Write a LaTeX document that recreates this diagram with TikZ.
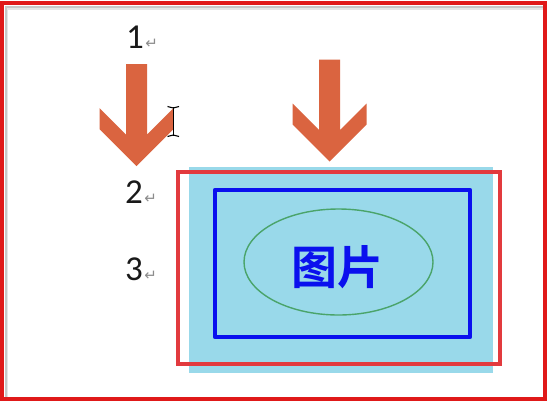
\documentclass[tikz,border=0pt]{standalone}
\usepackage{fontspec}
\usetikzlibrary{shapes.geometric}
\setmainfont{Carlito}
\newfontfamily\cjkbold[BoldFont={Noto Sans CJK SC Bold}]{Noto Sans CJK SC}
\newfontfamily\symfont{DejaVu Sans}
\definecolor{arrowred}{HTML}{DA6440}
\definecolor{lightblue}{HTML}{99D9EA}
\definecolor{outerred}{HTML}{E01919}
\definecolor{innerred}{HTML}{E23A3E}
\definecolor{picblue}{HTML}{0A10EE}
\definecolor{ellgreen}{HTML}{4AA46A}
\definecolor{retgray}{HTML}{8C8C8C}
\tikzset{
  numtext/.style={anchor=base west, inner sep=0pt, font=\fontsize{35}{35}\selectfont, text=black!90},
  retmark/.style={anchor=base west, inner sep=0pt, xshift=1pt, font=\symfont\fontsize{15}{15}\selectfont, text=retgray},
  bigarrow/.style={fill=arrowred, draw=none},
}
\newcommand\mydownarrow[2]{%
  \fill[bigarrow] (#1-10.5,#2) -- (#1+10.5,#2) -- (#1+10.5,#2+70.5) -- (#1+37,#2+44)
    -- (#1+37,#2+65) -- (#1,#2+102) -- (#1-37,#2+65) -- (#1-37,#2+44)
    -- (#1-10.5,#2+70.5) -- cycle;}
\begin{document}
\begin{tikzpicture}[x=1pt,y=-1pt]
\useasboundingbox (0,0) rectangle (548,402);
\fill[white] (0,0) rectangle (548,402);
% inner shadow of the page
\draw[black!22, line width=2pt] (5.5,398) -- (5.5,7) -- (543,7);
\draw[black!10, line width=1.5pt] (7.5,398) -- (7.5,9) -- (543,9);
% outer border
\draw[outerred, line width=3.8pt] (1.9,3.3) rectangle (544.6,398.6);
% numbers with return marks
\node[numtext] (n1) at (126,48) {1};
\node[retmark] (r1) at (n1.base east) {↵};
\node[numtext] (n2) at (125,203) {2};
\node[retmark] (r2) at (n2.base east) {↵};
\node[numtext] (n3) at (125,280) {3};
\node[retmark] (r3) at (n3.base east) {↵};
% arrows
\mydownarrow{136.5}{64}
\mydownarrow{329.7}{59.5}
% I-beam cursor
\coordinate (ctop) at (173.3,107);
\coordinate (cbot) at (173.3,136);
\draw[black, line width=1.2pt] (ctop) -- (cbot);
\draw[black, line width=1.1pt] (167.5,106.5) .. controls (171,106.5) .. (173.3,108) .. controls (175.6,106.5) .. (179,106.5);
\draw[black, line width=1.1pt] (167.5,136.5) .. controls (171,136.5) .. (173.3,135) .. controls (175.6,136.5) .. (179,136.5);
% picture
\fill[lightblue] (189,167) rectangle (493,373);
\draw[innerred, line width=3.2pt] (178,172) rectangle (500,364);
\draw[picblue, line width=4.2pt, line join=round] (215,190) rectangle (470,337);
\node[draw=ellgreen, line width=1.4pt, ellipse, minimum width=189pt, minimum height=106pt, inner sep=0pt] (ell) at (338.5,262) {};
\node[inner sep=0pt, text=picblue, font=\cjkbold\bfseries\fontsize{46}{46}\selectfont] (pic) at (337,267) {图片};
\end{tikzpicture}
\end{document}
